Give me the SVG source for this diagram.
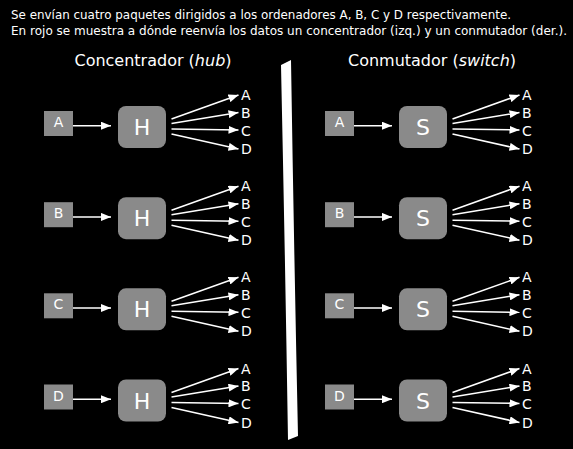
<svg xmlns="http://www.w3.org/2000/svg" width="573" height="449" viewBox="0 0 573 449">
<defs>
<style>
text{font-family:"DejaVu Sans","Noto Sans",sans-serif;fill:#fff}
.t{font-size:11.5px}
.h{font-size:16px}
.box{fill:#8a8a8a}
.pl{font-size:14px;text-anchor:middle}
.big{font-size:22px;text-anchor:middle}
.dl{font-size:14px}
</style>
<marker id="ah" viewBox="0 0 10 8" refX="10" refY="4" markerWidth="10" markerHeight="8" markerUnits="userSpaceOnUse" orient="auto">
<path d="M0,0 L10,4 L0,8 z" fill="#fff"/>
</marker>
<g id="fan" stroke="#fff" stroke-width="1.5" marker-end="url(#ah)">
<line x1="171.5" y1="-8" x2="238.5" y2="-32"/>
<line x1="171.5" y1="-3.5" x2="238.5" y2="-14.5"/>
<line x1="171.5" y1="2" x2="238.5" y2="3"/>
<line x1="171.5" y1="7" x2="238.5" y2="22"/>
<line x1="68" y1="-1.3" x2="111" y2="-1.3"/>
</g>
<g id="dests">
<text class="dl" x="241" y="-27">A</text>
<text class="dl" x="241" y="-9.3">B</text>
<text class="dl" x="241" y="8.7">C</text>
<text class="dl" x="241" y="27">D</text>
</g>
</defs>
<rect width="573" height="449" fill="#000"/>
<text class="t" x="11" y="19" textLength="500" lengthAdjust="spacingAndGlyphs">Se envían cuatro paquetes dirigidos a los ordenadores A, B, C y D respectivamente.</text>
<text class="t" x="11" y="34.5" textLength="556" lengthAdjust="spacingAndGlyphs">En rojo se muestra a dónde reenvía los datos un concentrador (izq.) y un conmutador (der.).</text>
<text class="h" x="153" y="65.7" text-anchor="middle">Concentrador (<tspan font-style="italic">hub</tspan>)</text>
<text class="h" x="432" y="65.7" text-anchor="middle">Conmutador (<tspan font-style="italic">switch</tspan>)</text>
<path id="divider" d="M281,65 L291,60 Q294,250 298,436 L288,440 Q285,250 281,65 z" fill="#fff"/>
<g id="connectors">
<use href="#fan" transform="translate(0,127)"/>
<use href="#fan" transform="translate(0,218.2)"/>
<use href="#fan" transform="translate(0,309.3)"/>
<use href="#fan" transform="translate(0,400.5)"/>
<use href="#fan" transform="translate(281,127)"/>
<use href="#fan" transform="translate(281,218.2)"/>
<use href="#fan" transform="translate(281,309.3)"/>
<use href="#fan" transform="translate(281,400.5)"/>
</g>
<g id="hub-row-A" transform="translate(0,127)">
<rect class="box" x="44" y="-16" width="29" height="25"/><text class="pl" x="58.5" y="0">A</text>
<rect class="box" x="118" y="-21" width="48" height="42" rx="8"/><text class="big" x="142" y="8">H</text>
<use href="#dests"/>
</g>
<g id="hub-row-B" transform="translate(0,218.2)">
<rect class="box" x="44" y="-16" width="29" height="25"/><text class="pl" x="58.5" y="0">B</text>
<rect class="box" x="118" y="-21" width="48" height="42" rx="8"/><text class="big" x="142" y="8">H</text>
<use href="#dests"/>
</g>
<g id="hub-row-C" transform="translate(0,309.3)">
<rect class="box" x="44" y="-16" width="29" height="25"/><text class="pl" x="58.5" y="0">C</text>
<rect class="box" x="118" y="-21" width="48" height="42" rx="8"/><text class="big" x="142" y="8">H</text>
<use href="#dests"/>
</g>
<g id="hub-row-D" transform="translate(0,400.5)">
<rect class="box" x="44" y="-16" width="29" height="25"/><text class="pl" x="58.5" y="0">D</text>
<rect class="box" x="118" y="-21" width="48" height="42" rx="8"/><text class="big" x="142" y="8">H</text>
<use href="#dests"/>
</g>
<g id="switch-row-A" transform="translate(281,127)">
<rect class="box" x="44" y="-16" width="29" height="25"/><text class="pl" x="58.5" y="0">A</text>
<rect class="box" x="118" y="-21" width="48" height="42" rx="8"/><text class="big" x="142" y="8">S</text>
<use href="#dests"/>
</g>
<g id="switch-row-B" transform="translate(281,218.2)">
<rect class="box" x="44" y="-16" width="29" height="25"/><text class="pl" x="58.5" y="0">B</text>
<rect class="box" x="118" y="-21" width="48" height="42" rx="8"/><text class="big" x="142" y="8">S</text>
<use href="#dests"/>
</g>
<g id="switch-row-C" transform="translate(281,309.3)">
<rect class="box" x="44" y="-16" width="29" height="25"/><text class="pl" x="58.5" y="0">C</text>
<rect class="box" x="118" y="-21" width="48" height="42" rx="8"/><text class="big" x="142" y="8">S</text>
<use href="#dests"/>
</g>
<g id="switch-row-D" transform="translate(281,400.5)">
<rect class="box" x="44" y="-16" width="29" height="25"/><text class="pl" x="58.5" y="0">D</text>
<rect class="box" x="118" y="-21" width="48" height="42" rx="8"/><text class="big" x="142" y="8">S</text>
<use href="#dests"/>
</g>
</svg>
